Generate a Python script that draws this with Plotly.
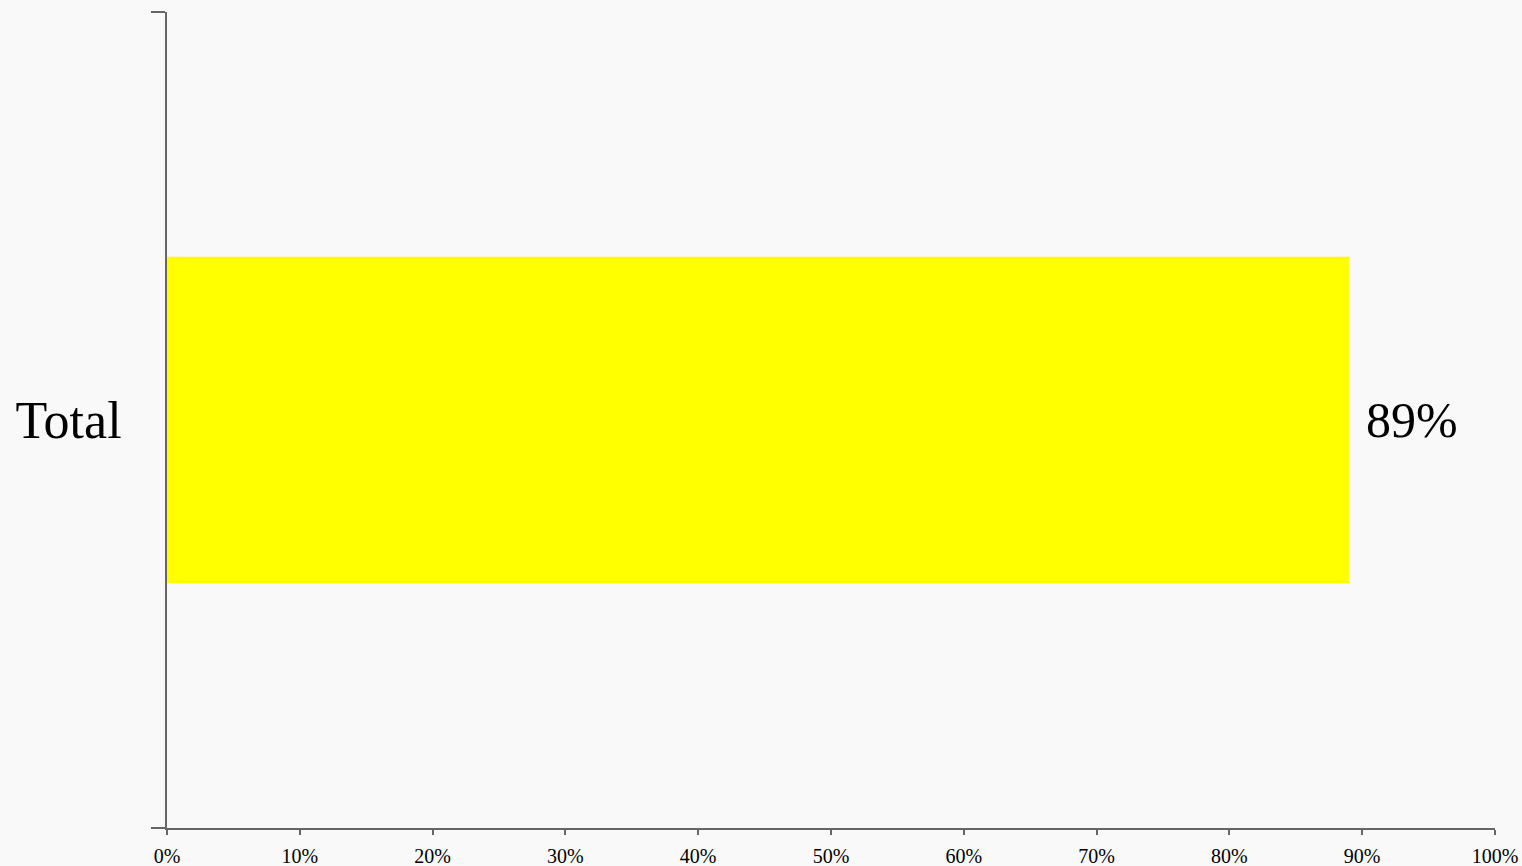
import plotly.graph_objects as go

categories = ["Total"]
values = [0.89]
x_ticks = [0, 0.1, 0.2, 0.3, 0.4, 0.5, 0.6, 0.7, 0.8, 0.9, 1.0]
x_tick_labels = ["0%", "10%", "20%", "30%", "40%", "50%", "60%", "70%", "80%", "90%", "100%"]

FONT = "Liberation Serif, Times New Roman, serif"
AXIS = "#666666"

fig = go.Figure()
fig.add_trace(go.Bar(
    x=values, y=categories, orientation="h",
    marker=dict(color="#FFFF00", line=dict(width=0)),
    hoverinfo="skip",
))

for c, v in zip(categories, values):
    fig.add_annotation(
        x=v, y=c, text=f"{round(v*100)}%", showarrow=False,
        xanchor="left", yanchor="middle", xshift=15, yshift=0,
        font=dict(family=FONT, size=50, color="#000000"),
    )

fig.update_layout(
    width=1522, height=866,
    margin=dict(l=167, r=27, t=12, b=38, pad=0, autoexpand=False),
    paper_bgcolor="#f9f9f9", plot_bgcolor="#f9f9f9",
    bargap=0.6, showlegend=False,
    font=dict(family=FONT, color="#000000"),
)
fig.update_xaxes(
    range=[0, 1], tickvals=x_ticks, ticktext=x_tick_labels,
    showgrid=False, zeroline=False, automargin=False,
    showline=True, linecolor=AXIS, linewidth=2,
    ticks="outside", ticklen=5, tickwidth=2, tickcolor=AXIS,
    tickfont=dict(family=FONT, size=20, color="#000000"),
    ticklabelstandoff=4,
    fixedrange=True,
)
fig.update_yaxes(
    range=[-0.5, 0.5], showgrid=False, zeroline=False, automargin=False,
    showline=True, linecolor=AXIS, linewidth=2,
    ticks="outside", ticklen=14, tickwidth=2, tickcolor=AXIS,
    tickson="boundaries",
    tickfont=dict(family=FONT, size=52, color="#000000"),
    ticklabelstandoff=33,
    fixedrange=True,
)

fig.write_html("out.html")
